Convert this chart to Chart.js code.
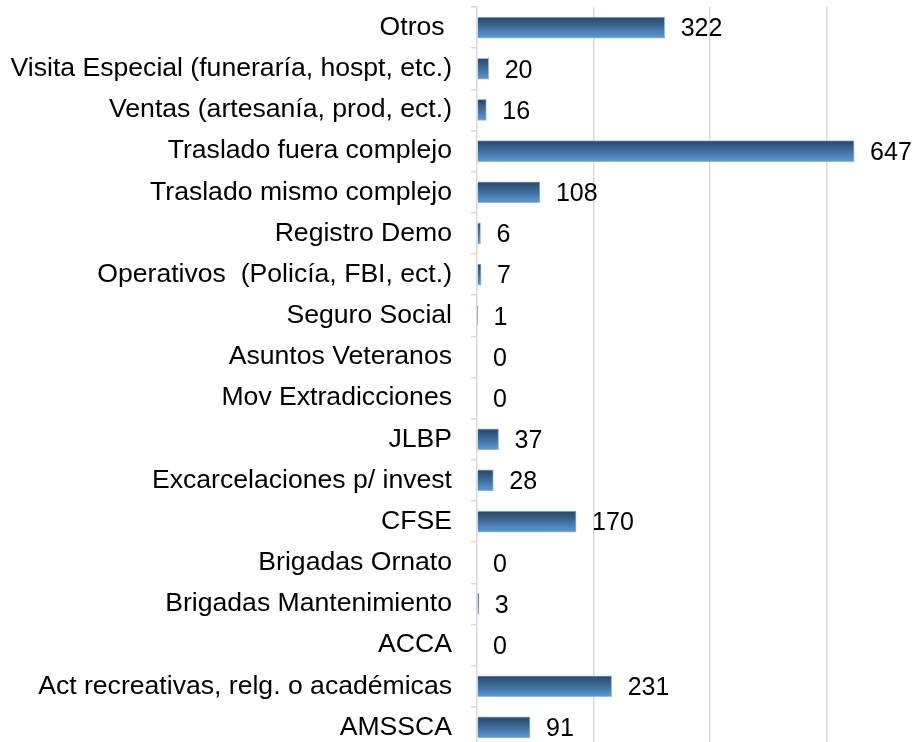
<!DOCTYPE html>
<html>
<head>
<meta charset="utf-8">
<script src="https://cdn.jsdelivr.net/npm/chart.js@4"></script>
<style>
  html, body { margin: 0; padding: 0; background: #fff; }
  #wrap { width: 919px; height: 742px; overflow: hidden; }
</style>
</head>
<body>
<div id="wrap"><canvas id="chart" width="919" height="748"></canvas></div>
<script>
// categories, top to bottom
const categories = [
  'Otros ',
  'Visita Especial (funeraría, hospt, etc.)',
  'Ventas (artesanía, prod, ect.)',
  'Traslado fuera complejo',
  'Traslado mismo complejo',
  'Registro Demo',
  'Operativos  (Policía, FBI, ect.)',
  'Seguro Social',
  'Asuntos Veteranos',
  'Mov Extradicciones',
  'JLBP',
  'Excarcelaciones p/ invest',
  'CFSE',
  'Brigadas Ornato',
  'Brigadas Mantenimiento',
  'ACCA',
  'Act recreativas, relg. o académicas',
  'AMSSCA'
];
const counts = [322, 20, 16, 647, 108, 6, 7, 1, 0, 0, 37, 28, 170, 0, 3, 0, 231, 91];

const FONT = 'Liberation Sans, Arial, sans-serif';
const BAR_H = 21;

// vertical shading for each bar, dark on top, lighter underneath
function barFill(ctx) {
  const chart = ctx.chart;
  const y = chart.scales.y;
  if (!chart.chartArea || !y) return '#4a7fb8';
  const cy = y.getPixelForValue(ctx.dataIndex);
  const g = chart.ctx.createLinearGradient(0, cy - BAR_H / 2, 0, cy + BAR_H / 2);
  g.addColorStop(0, '#2b4563');
  g.addColorStop(0.45, '#3d6a98');
  g.addColorStop(1, '#5c9ad6');
  return g;
}

const valueLabels = {
  id: 'valueLabels',
  afterDatasetsDraw(chart) {
    const c = chart.ctx;
    const meta = chart.getDatasetMeta(0);
    c.save();
    c.font = '25px ' + FONT;
    c.fillStyle = '#000';
    c.textAlign = 'left';
    c.textBaseline = 'middle';
    meta.data.forEach((bar, i) => {
      c.fillText(String(counts[i]), bar.x + 16, bar.y + 2);
    });
    c.restore();
  }
};

new Chart(document.getElementById('chart'), {
  type: 'bar',
  data: {
    labels: categories,
    datasets: [{
      data: counts,
      backgroundColor: barFill,
      borderColor: 'rgba(130,175,222,0.9)',
      borderWidth: 1,
      barThickness: BAR_H
    }]
  },
  options: {
    indexAxis: 'y',
    responsive: false,
    animation: false,
    devicePixelRatio: 1,
    layout: { padding: { top: 7, right: 34, left: 0, bottom: 0 } },
    plugins: {
      legend: { display: false },
      tooltip: { enabled: false }
    },
    scales: {
      x: {
        min: 0,
        max: 700,
        border: { display: false },
        ticks: { display: false, stepSize: 200 },
        grid: {
          drawTicks: false,
          lineWidth: 1.5,
          color: (ctx) => (ctx.tick && (ctx.tick.value === 0 || ctx.tick.value === 700)) ? 'rgba(0,0,0,0)' : '#d9d9d9'
        },
        afterFit(scale) {
          scale.height = 0;
          scale.paddingLeft = scale.paddingRight = 0;
        }
      },
      y: {
        border: { color: '#d9d9d9', width: 1.5 },
        grid: {
          offset: true,
          drawOnChartArea: false,
          tickLength: 6,
          color: '#d9d9d9',
          lineWidth: 1.5
        },
        ticks: {
          autoSkip: false,
          padding: 19,
          color: '#000',
          font: { family: FONT, size: 26.6 }
        },
        afterFit(scale) {
          scale.width = 477;
          scale.paddingTop = scale.paddingBottom = 0;
        }
      }
    }
  },
  plugins: [valueLabels]
});
</script>
</body>
</html>
